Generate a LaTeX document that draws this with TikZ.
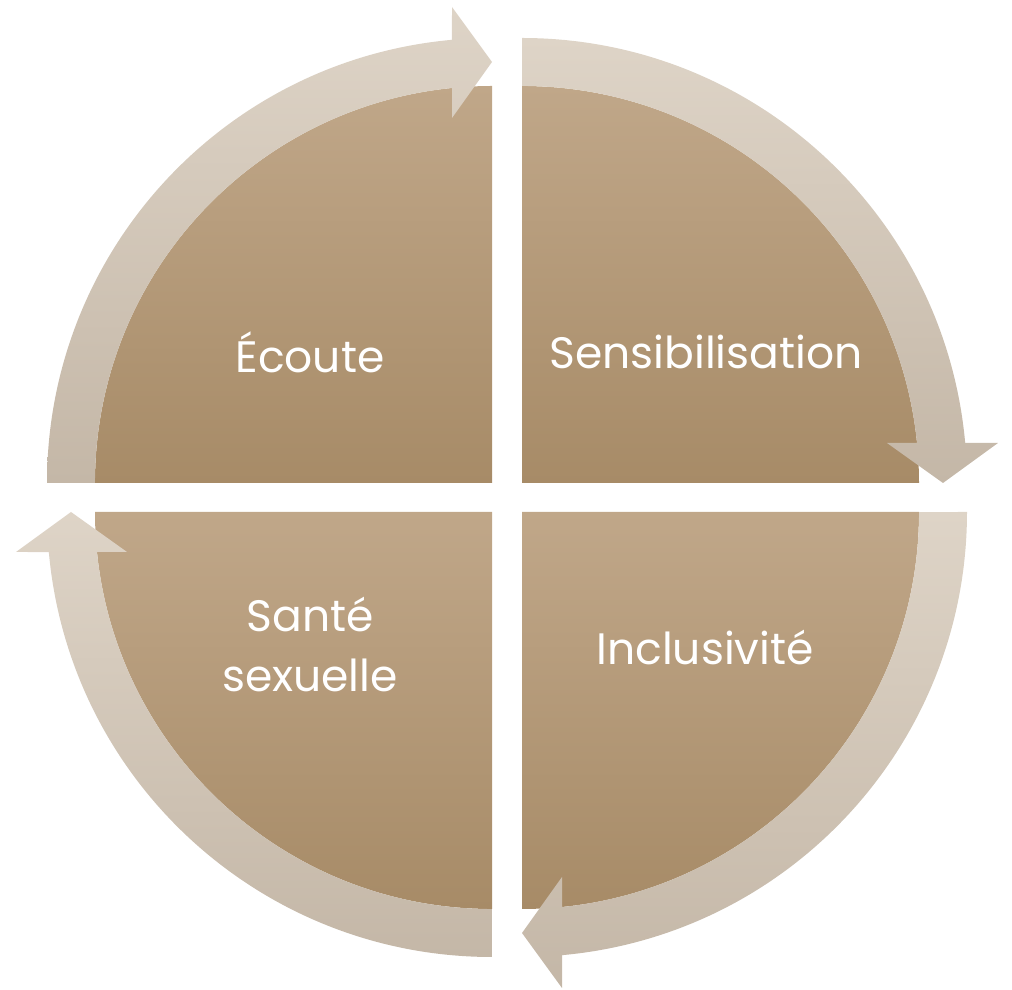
\documentclass[tikz,border=0pt]{standalone}
\usepackage{fontspec}
\setmainfont{Poppins}
\definecolor{pietop}{RGB}{192,167,137}
\definecolor{piebottom}{RGB}{167,139,103}
\definecolor{bandlight}{RGB}{222,212,199}
\definecolor{banddark}{RGB}{196,183,167}
\tikzset{quadrant/.style={top color=pietop, bottom color=piebottom},
band/.style={top color=bandlight, bottom color=banddark},
label/.style={text=white, align=center, font=\fontsize{22}{30}\selectfont}}
\begin{document}
\begin{tikzpicture}[x=0.5pt, y=0.5pt]
\useasboundingbox (0,0) rectangle (1012,990);
\shade[quadrant] (492,507) -- (95,507) arc[start angle=180, end angle=90, radius=397] -- cycle;
\shade[quadrant] (522,507) -- (522,904) arc[start angle=90, end angle=0, radius=397] -- cycle;
\shade[quadrant] (522,478) -- (919,478) arc[start angle=0, end angle=-90, radius=397] -- cycle;
\shade[quadrant] (492,478) -- (492,81) arc[start angle=-90, end angle=-180, radius=397] -- cycle;
\shade[band] (47,507) arc[start angle=180, end angle=95.16, radius=445] -- (452,983) -- (492,928) -- (452,872) -- (452,902) arc[start angle=95.78, end angle=180, radius=397] -- cycle;
\shade[band] (522,952) arc[start angle=90, end angle=5.16, radius=445] -- (998,547) -- (943,507) -- (887,547) -- (917,547) arc[start angle=5.78, end angle=90, radius=397] -- cycle;
\shade[band] (967,478) arc[start angle=0, end angle=-84.84, radius=445] -- (562,2) -- (522,57) -- (562,113) -- (562,83) arc[start angle=-84.22, end angle=0, radius=397] -- cycle;
\shade[band] (492,33) arc[start angle=-90, end angle=-174.84, radius=445] -- (16,438) -- (71,478) -- (127,438) -- (97,438) arc[start angle=-174.22, end angle=-90, radius=397] -- cycle;
\node[label] (ecoute) at (310,638) {Écoute};
\node[label] (sensib) at (706,638) {Sensibilisation};
\node[label] (inclus) at (705,342) {Inclusivité};
\node[label] (sante) at (310,346) {Santé\\sexuelle};
\end{tikzpicture}
\end{document}
